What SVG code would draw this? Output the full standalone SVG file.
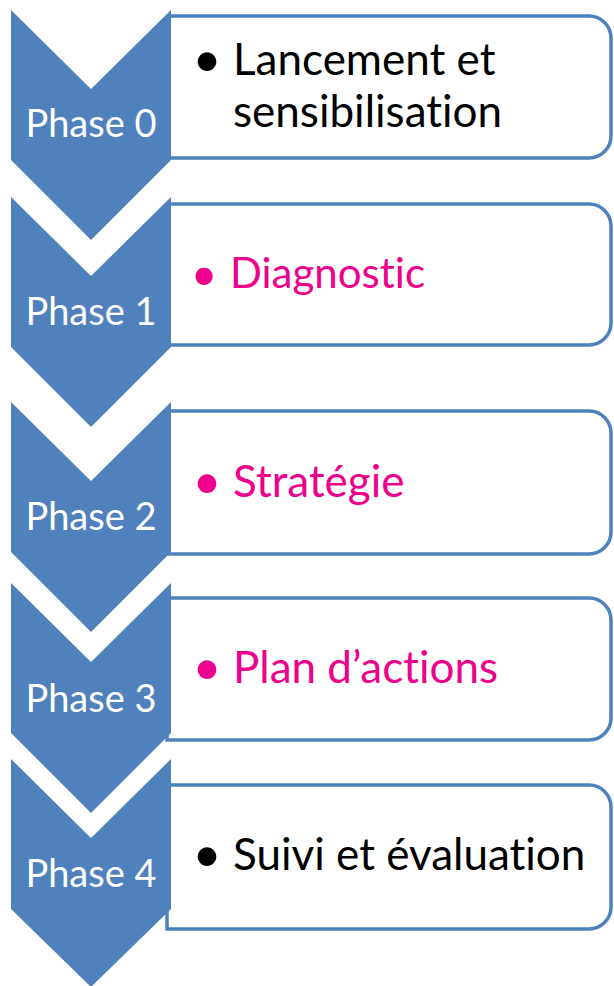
<svg xmlns="http://www.w3.org/2000/svg" width="614" height="986" viewBox="0 0 614 986">
<style>
.box{fill:#fff;stroke:#4F81BD;stroke-width:3.5}
.chev{fill:#4F81BD}
text{font-variant-ligatures:none;font-feature-settings:"liga" 0}
.ph{font-family:Lato,"Liberation Sans",sans-serif;font-size:38px;fill:#fff;text-anchor:middle}
.tx{font-family:Lato,"Liberation Sans",sans-serif;font-size:44px;fill:#000}
.pk{fill:#EC008C}
.bul{font-family:Lato,"Liberation Sans",sans-serif;font-size:50px;text-anchor:middle}
</style>
<rect width="614" height="986" fill="#fff"/>
<g id="connectors"></g>
<g id="phase0">
<path class="box" d="M169,16 H589 A22,22 0 0 1 611,38 V136 A22,22 0 0 1 589,158 H169 Z"/>
<path class="chev" d="M11,10 L91,89 L171,10 V160 L91,240 L11,160 Z"/>
<text class="ph" x="91" y="137">Phase 0</text>
<text class="bul" x="207" y="77">•</text>
<text class="tx" x="233" y="75">Lancement et</text>
<text class="tx" x="233" y="127">sensibilisation</text>
</g>
<g id="phase1">
<path class="box" d="M169,204 H589 A22,22 0 0 1 611,226 V323 A22,22 0 0 1 589,345 H169 Z"/>
<path class="chev" d="M11,197 L91,276 L171,197 V347 L91,427 L11,347 Z"/>
<text class="ph" x="91" y="325">Phase 1</text>
<text class="bul pk" x="204" y="290" style="font-size:46px">•</text>
<text class="tx pk" x="230" y="288" style="font-size:42px">Diagnostic</text>
</g>
<g id="phase2">
<path class="box" d="M169,411 H589 A22,22 0 0 1 611,433 V532 A22,22 0 0 1 589,554 H169 Z"/>
<path class="chev" d="M11,402 L91,481 L171,402 V552 L91,632 L11,552 Z"/>
<text class="ph" x="91" y="530">Phase 2</text>
<text class="bul pk" x="207" y="499">•</text>
<text class="tx pk" x="233" y="497">Stratégie</text>
</g>
<g id="phase3">
<path class="box" d="M167,598 H589 A22,22 0 0 1 611,620 V718 A22,22 0 0 1 589,740 H167 Z"/>
<path class="chev" d="M11,583 L91,662 L171,583 V733 L91,813 L11,733 Z"/>
<text class="ph" x="91" y="712">Phase 3</text>
<text class="bul pk" x="207" y="685">•</text>
<text class="tx pk" x="233" y="683">Plan d’actions</text>
</g>
<g id="phase4">
<path class="box" d="M167,785 H589 A22,22 0 0 1 611,807 V907 A22,22 0 0 1 589,929 H167 Z"/>
<path class="chev" d="M11,759 L91,838 L171,759 V909 L91,987 L11,909 Z"/>
<text class="ph" x="91" y="887">Phase 4</text>
<text class="bul" x="207" y="872">•</text>
<text class="tx" x="233" y="870">Suivi et évaluation</text>
</g>
</svg>
